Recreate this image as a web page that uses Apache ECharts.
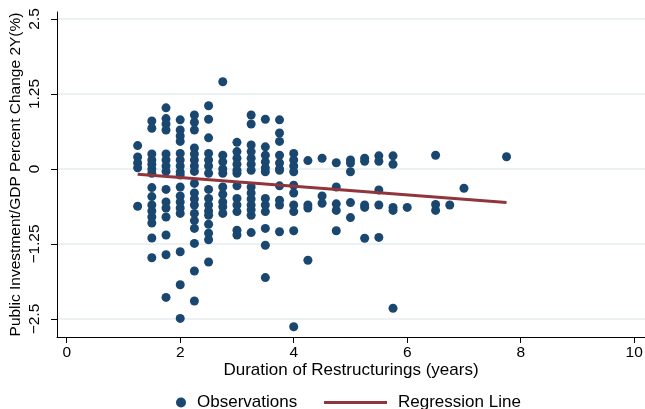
<!DOCTYPE html>
<html><head><meta charset="utf-8">
<script src="https://cdn.jsdelivr.net/npm/echarts@6/dist/echarts.min.js"></script>
<style>html,body{margin:0;padding:0;background:#fff}#c{width:645px;height:409px}</style>
</head><body><div id="c"></div>
<script>
const xTicks = [0, 2, 4, 6, 8, 10];
const yTicks = [-2.5, -1.25, 0, 1.25, 2.5];
const yTickLabels = ['−2.5', '−1.25', '0', '1.25', '2.5'];

const durations = [1.25, 1.5, 1.75, 2.0, 2.25, 2.5, 2.75, 3.0, 3.25, 3.5, 3.75, 4.0, 4.25, 4.5, 4.75, 5.0, 5.25, 5.5, 5.75, 6.0, 6.5, 6.75, 7.0, 7.75];
const changes = [
  [0.39, 0.2, 0.1, 0.02, -0.62],
  [0.8, 0.68, 0.25, 0.15, 0.08, 0.0, -0.07, -0.31, -0.46, -0.6, -0.7, -0.8, -0.9, -1.15, -1.48],
  [1.02, 0.84, 0.75, 0.65, 0.25, 0.15, 0.05, -0.04, -0.34, -0.55, -0.65, -0.8, -1.1, -1.43, -2.14],
  [0.82, 0.65, 0.55, 0.46, 0.26, 0.15, 0.05, -0.05, -0.1, -0.3, -0.45, -0.55, -0.65, -0.74, -1.38, -1.93, -2.49],
  [0.9, 0.78, 0.65, 0.35, 0.25, 0.15, 0.05, -0.04, -0.24, -0.4, -0.5, -0.6, -0.74, -0.86, -0.99, -1.24, -1.7, -2.2],
  [1.055, 0.83, 0.52, 0.26, 0.15, 0.05, -0.07, -0.34, -0.49, -0.6, -0.7, -0.77, -0.92, -1.07, -1.18, -1.55],
  [1.455, 0.23, 0.12, 0.0, -0.07, -0.3, -0.42, -0.55, -0.63, -0.74],
  [0.445, 0.29, 0.18, 0.08, -0.02, -0.07, -0.28, -0.49, -0.6, -0.71, -1.02, -1.1],
  [0.9, 0.75, 0.4, 0.29, 0.18, 0.08, -0.02, -0.3, -0.4, -0.5, -0.6, -0.68, -0.77, -1.06],
  [0.83, 0.37, 0.23, 0.12, 0.02, -0.045, -0.49, -0.6, -0.71, -0.99, -1.27, -1.81],
  [0.82, 0.6, 0.46, 0.23, 0.1, 0.0, -0.02, -0.28, -0.52, -0.6, -1.045],
  [0.26, 0.15, 0.05, -0.045, -0.27, -0.4, -0.6, -0.71, -1.03, -2.63],
  [0.14, -0.6, -0.65, -1.52],
  [0.18, -0.45, -0.57],
  [0.105, -0.3, -0.58, -0.69, -1.03],
  [0.15, 0.1, -0.045, -0.56, -0.81],
  [0.18, 0.13, -0.6, -0.64, -1.155],
  [0.22, 0.13, -0.35, -0.6, -1.14],
  [0.22, 0.08, -0.64, -0.69, -2.32],
  [-0.64],
  [0.23, -0.59, -0.69],
  [-0.6],
  [-0.32],
  [0.205]
];
const regX = [1.25, 7.75];
const regY = [-0.088, -0.56];

const obsData = [];
durations.forEach((d, i) => changes[i].forEach(v => obsData.push([d, v])));
const regData = regX.map((x, i) => [x, regY[i]]);

const font = "'Liberation Sans', Arial, sans-serif";
const chart = echarts.init(document.getElementById('c'));
chart.setOption({
  animation: false,
  backgroundColor: '#fff',
  textStyle: { fontFamily: font },
  grid: { left: 57, right: 0, top: 12, bottom: 72, containLabel: false, outerBoundsMode: 'none' },
  legend: [
    { data: ['Observations'], icon: 'circle', itemWidth: 10, itemHeight: 10, left: 176, top: 394, padding: 0,
      textStyle: { fontFamily: font, fontSize: 17, color: '#000', padding: [0, 0, 0, 6] } },
    { data: ['Regression Line'], icon: 'rect', itemWidth: 63, itemHeight: 3, left: 324, top: 394, padding: 0,
      textStyle: { fontFamily: font, fontSize: 17, color: '#000', padding: [0, 0, 0, 6] } }
  ],
  xAxis: {
    type: 'value', min: -0.171, max: 10.19,
    name: 'Duration of Restructurings (years)', nameLocation: 'middle', nameGap: 25, nameMoveOverlap: false,
    nameTextStyle: { fontFamily: font, fontSize: 17, color: '#000' },
    axisLine: { show: true, onZero: false, lineStyle: { color: '#000', width: 1 } },
    axisTick: { show: true, length: 6, customValues: xTicks, lineStyle: { color: '#000' } },
    axisLabel: { customValues: xTicks, fontSize: 15.5, color: '#000', margin: 8, fontFamily: font },
    splitLine: { show: false }
  },
  yAxis: {
    type: 'value', min: -2.8, max: 2.617,
    name: 'Public Investment/GDP Percent Change 2Y(%)', nameLocation: 'middle', nameGap: 33, nameRotate: 90, nameMoveOverlap: false,
    nameTextStyle: { fontFamily: font, fontSize: 15.5, color: '#000' },
    axisLine: { show: true, onZero: false, lineStyle: { color: '#000', width: 1 } },
    axisTick: { show: true, length: 6, customValues: yTicks, lineStyle: { color: '#000' } },
    axisLabel: { customValues: yTicks, rotate: 90, fontSize: 15.5, color: '#000', margin: 14, fontFamily: font,
      formatter: v => yTickLabels[yTicks.indexOf(v)] },
    splitLine: { show: true, lineStyle: { color: '#e6eef1', width: 1.5 } }
  },
  series: [
    { name: 'Observations', type: 'scatter', data: obsData, symbol: 'circle', symbolSize: 9,
      itemStyle: { color: '#1a476f', opacity: 1 }, z: 2 },
    { name: 'Regression Line', type: 'line', data: regData, showSymbol: false, symbol: 'none',
      lineStyle: { color: '#90353b', width: 3 }, itemStyle: { color: '#90353b' }, z: 3 }
  ]
});
</script></body></html>
